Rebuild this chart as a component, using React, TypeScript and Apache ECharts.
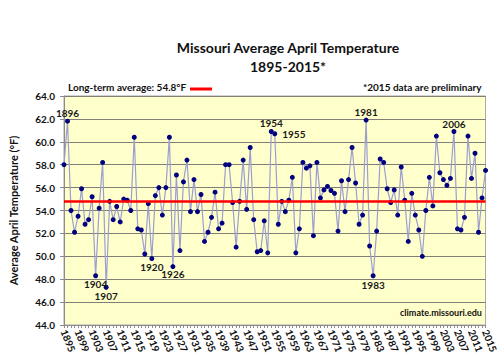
import React, { useEffect, useRef } from "react";
import * as echarts from "echarts";

const START_YEAR = 1895;
const TEMPS: number[] = [
  // 1895-1914
  58.0, 61.8, 54.0, 52.1, 53.5, 55.9, 52.8, 53.2, 55.2, 48.3,
  54.2, 58.2, 47.3, 54.8, 53.2, 54.35, 53.0, 55.0, 54.9, 54.0,
  // 1915-1934
  60.4, 52.4, 52.3, 50.2, 54.6, 49.8, 55.3, 56.0, 53.6, 56.0,
  60.4, 49.1, 57.1, 50.5, 56.5, 58.4, 53.9, 56.7, 53.9, 55.4,
  // 1935-1954
  51.3, 52.1, 53.4, 55.6, 52.4, 52.9, 58.0, 58.0, 54.7, 50.8,
  54.8, 58.4, 54.1, 59.5, 53.2, 50.4, 50.5, 53.1, 50.3, 60.9,
  // 1955-1974
  60.7, 52.8, 54.8, 53.9, 54.9, 56.9, 50.3, 52.4, 58.2, 57.7,
  57.9, 51.8, 58.2, 55.1, 55.8, 56.1, 55.75, 55.5, 52.2, 56.6,
  // 1975-1994
  53.9, 56.7, 59.5, 56.4, 52.8, 53.6, 61.9, 50.9, 48.3, 52.2,
  58.5, 58.2, 55.9, 54.7, 55.8, 53.6, 57.8, 54.9, 51.3, 55.5,
  // 1995-2015
  53.6, 52.3, 50.0, 54.0, 56.9, 54.4, 60.5, 57.3, 56.7, 56.2,
  56.8, 60.9, 52.4, 52.3, 53.4, 60.5, 56.8, 59.0, 52.1, 55.1,
  57.5,
];
const YEARS: string[] = TEMPS.map((_, i) => String(START_YEAR + i));

const LONG_TERM_AVG = 54.8;
const Y_MIN = 44;
const Y_MAX = 64;
const Y_STEP = 2;

const TITLE_LINE1 = "Missouri Average April Temperature";
const TITLE_LINE2 = "1895-2015*";
const LEGEND_TEXT = "Long-term average: 54.8\u00B0F";
const NOTE_TEXT = "*2015 data are preliminary";
const SOURCE_TEXT = "climate.missouri.edu";
const Y_NAME = "Average April Temperature (\u00B0F)";

// annotated years: [year, position, distance, offsetX, offsetY]
const ANNOTATED: [string, string, number, number, number][] = [
  ["1896", "top", 1, 7, 0],
  ["1904", "bottom", 1, -3, 0],
  ["1907", "bottom", 1, -2, 0],
  ["1920", "bottom", 1, -2, 0],
  ["1926", "bottom", 0, -2, 0],
  ["1954", "top", 1, 0, 0],
  ["1955", "right", 5, 0, -2],
  ["1981", "top", 1, 0, 0],
  ["1983", "bottom", 2, 0, 0],
  ["2006", "top", 0, 2, 1],
];

const FONT = "Lato, 'Open Sans', sans-serif";

export default function App() {
  const ref = useRef<HTMLDivElement>(null);
  useEffect(() => {
    document.body.style.margin = "0";
    const chart = echarts.init(ref.current!, null, { renderer: "svg" });
    const data = TEMPS.map((v, i) => {
      const yr = YEARS[i];
      const a = ANNOTATED.find((x) => x[0] === yr);
      if (!a) return v;
      return {
        value: v,
        label: {
          show: true,
          formatter: "{b}",
          position: a[1],
          distance: a[2],
          offset: [a[3], a[4]],
          fontSize: 10,
          fontWeight: "bold",
          color: "#1a1a1a",
          fontFamily: FONT,
        },
      };
    });
    chart.setOption({
      animation: false,
      backgroundColor: "#ffffff",
      textStyle: { fontFamily: FONT },
      title: {
        text: TITLE_LINE1 + "\n" + TITLE_LINE2,
        left: 283,
        top: 33,
        textAlign: "center",
        textStyle: {
          fontSize: 14,
          fontWeight: "bold",
          color: "#111",
          lineHeight: 19,
          fontFamily: FONT,
        },
      },
      grid: {
        left: 63,
        right: 9,
        top: 96,
        bottom: 35,
        show: true,
        backgroundColor: "#ffffcc",
        borderColor: "#a6a6a6",
        borderWidth: 1,
      },
      xAxis: {
        type: "category",
        data: YEARS,
        boundaryGap: false,
        axisLine: { lineStyle: { color: "#8c8c8c", width: 1 } },
        axisTick: { show: true, interval: 0, length: 3, lineStyle: { color: "#8c8c8c" } },
        axisLabel: {
          interval: 3,
          rotate: -68,
          margin: 5,
          fontSize: 10,
          fontWeight: "bold",
          color: "#111",
          fontFamily: FONT,
        },
        splitLine: { show: false },
      },
      yAxis: {
        type: "value",
        min: Y_MIN,
        max: Y_MAX,
        interval: Y_STEP,
        name: Y_NAME,
        nameLocation: "middle",
        nameGap: 45,
        nameTextStyle: { fontSize: 11, fontWeight: "bold", color: "#111", fontFamily: FONT },
        axisLine: { show: true, lineStyle: { color: "#8c8c8c", width: 1 } },
        axisTick: { show: true, length: 4, lineStyle: { color: "#8c8c8c" } },
        axisLabel: {
          formatter: (v: number) => v.toFixed(1),
          margin: 9,
          fontSize: 10,
          fontWeight: "bold",
          color: "#111",
          fontFamily: FONT,
        },
        splitLine: { show: true, lineStyle: { color: "#7f7f78", width: 1 } },
      },
      graphic: [
        {
          type: "text",
          left: 68,
          top: 82,
          style: { text: LEGEND_TEXT, fontSize: 10, fontWeight: "bold", fill: "#111", fontFamily: FONT },
        },
        {
          type: "line",
          shape: { x1: 190, y1: 89, x2: 212, y2: 89 },
          style: { stroke: "#ff0000", lineWidth: 3 },
        },
        {
          type: "text",
          left: 363,
          top: 82,
          style: { text: NOTE_TEXT, fontSize: 10, fontWeight: "bold", fill: "#111", fontFamily: FONT },
        },
        {
          type: "text",
          left: 400,
          top: 308,
          z: 10,
          style: { text: SOURCE_TEXT, fontSize: 9, fontWeight: "bold", fill: "#111", fontFamily: FONT },
        },
      ],
      series: [
        {
          type: "line",
          data,
          symbol: "circle",
          symbolSize: 5,
          showSymbol: true,
          showAllSymbol: true,
          itemStyle: { color: "#000080" },
          lineStyle: { color: "#9c9ed0", width: 1.2 },
          labelLayout: { hideOverlap: false },
          z: 3,
          markLine: {
            silent: true,
            symbol: "none",
            label: { show: false },
            lineStyle: { color: "#ff0000", width: 2.5, type: "solid" },
            data: [{ yAxis: LONG_TERM_AVG }],
            z: 4,
          },
        },
      ],
    });
    return () => chart.dispose();
  }, []);
  return (
    <div
      ref={ref}
      style={{ position: "absolute", left: 0, top: 0, width: 500, height: 360 }}
    />
  );
}
